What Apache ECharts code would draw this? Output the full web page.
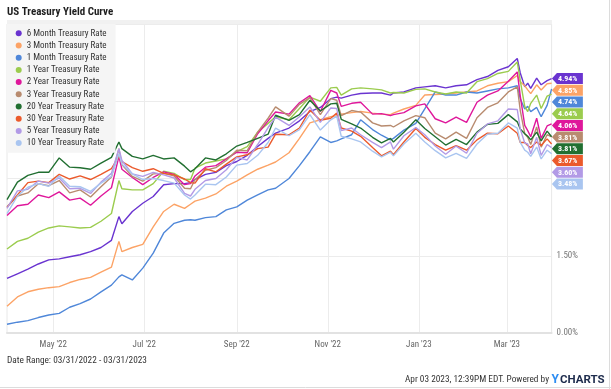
<!DOCTYPE html>
<html><head><meta charset="utf-8">
<script src="https://cdn.jsdelivr.net/npm/echarts@6/dist/echarts.min.js"></script>
<style>html,body{margin:0;padding:0;background:#fff}#c{width:611px;height:389px}</style>
</head><body><div id="c"></div>
<script>
// ---------- data ----------
const dates = ['2022-03-31','2022-04-07','2022-04-14','2022-04-21','2022-04-28','2022-05-05','2022-05-12','2022-05-19','2022-05-26','2022-06-02','2022-06-09','2022-06-14','2022-06-16','2022-06-23','2022-06-30','2022-07-07','2022-07-14','2022-07-21','2022-07-28','2022-08-01','2022-08-04','2022-08-11','2022-08-18','2022-08-25','2022-09-01','2022-09-08','2022-09-15','2022-09-22','2022-09-27','2022-10-06','2022-10-13','2022-10-20','2022-10-27','2022-11-03','2022-11-07','2022-11-10','2022-11-17','2022-11-23','2022-12-01','2022-12-07','2022-12-13','2022-12-15','2022-12-22','2022-12-30','2023-01-05','2023-01-12','2023-01-19','2023-01-26','2023-02-02','2023-02-09','2023-02-16','2023-02-23','2023-03-02','2023-03-08','2023-03-10','2023-03-13','2023-03-15','2023-03-17','2023-03-21','2023-03-24','2023-03-28','2023-03-31'];

const rate6M = [1.06,1.15,1.24,1.34,1.42,1.44,1.48,1.52,1.58,1.66, 1.80,2.26,2.12,2.36,2.52,2.65,2.88,2.90,2.90,2.92, 2.98,3.08,3.12,3.25,3.33,3.45,3.62,3.78,3.88,3.98, 4.12,4.30,4.38,4.55,4.58,4.56,4.62,4.65,4.66,4.66, 4.62,4.66,4.68,4.76,4.78,4.80,4.76,4.80,4.82,4.92, 4.98,5.10,5.17,5.33,5.05,4.78,4.85,4.75,4.95,4.82, 4.90,4.94];
const rate3M = [0.52,0.70,0.80,0.85,0.88,0.90,0.98,1.04,1.08,1.18, 1.28,1.78,1.58,1.66,1.72,2.06,2.36,2.50,2.42,2.50, 2.56,2.62,2.70,2.85,2.95,3.07,3.18,3.26,3.32,3.50, 3.78,4.08,4.14,4.20,4.22,4.25,4.28,4.30,4.27,4.25, 4.24,4.27,4.35,4.42,4.62,4.63,4.64,4.66,4.68,4.70, 4.80,4.85,4.88,5.00,4.88,4.80,4.72,4.65,4.82,4.72, 4.84,4.85];
const rate1M = [0.17,0.21,0.24,0.30,0.35,0.38,0.50,0.57,0.66,0.80, 0.93,1.09,1.13,1.03,1.26,1.55,1.94,2.13,2.19,2.20, 2.19,2.24,2.26,2.39,2.45,2.58,2.68,2.78,2.81,3.00, 3.25,3.52,3.81,3.70,3.73,3.77,3.85,4.14,3.95,3.84, 3.75,3.78,3.94,4.07,4.35,4.68,4.62,4.62,4.68,4.66, 4.70,4.74,4.76,4.80,4.55,4.35,4.40,4.30,4.38,4.20, 4.42,4.74];
const rate1Y = [1.63,1.78,1.84,1.96,2.04,2.08,2.06,2.04,2.05,2.17, 2.32,2.96,2.80,2.78,2.78,2.90,3.14,3.10,2.98,2.98, 3.20,3.30,3.34,3.38,3.52,3.62,3.90,4.07,4.20,4.14, 4.36,4.58,4.50,4.76,4.77,4.62,4.74,4.76,4.74,4.72, 4.66,4.67,4.66,4.73,4.74,4.68,4.64,4.68,4.66,4.88, 4.94,5.04,5.08,5.26,4.90,4.40,4.30,4.46,4.62,4.36, 4.60,4.64];
const rate2Y = [2.28,2.47,2.50,2.68,2.63,2.74,2.58,2.62,2.48,2.66, 2.82,3.43,3.18,3.02,2.88,3.02,3.13,3.08,2.88,2.90, 3.05,3.22,3.25,3.38,3.51,3.50,3.87,4.12,4.29,4.25, 4.47,4.61,4.30,4.71,4.66,4.40,4.46,4.48,4.25,4.26, 4.22,4.24,4.28,4.41,4.45,4.16,4.08,4.19,4.09,4.48, 4.62,4.70,4.89,5.07,4.60,4.03,3.93,3.81,4.17,3.78, 4.02,4.06];
const rate3Y = [2.45,2.66,2.72,2.90,2.86,2.96,2.72,2.78,2.64,2.84, 3.03,3.58,3.27,3.04,2.95,3.09,3.10,3.05,2.81,2.80, 2.98,3.16,3.21,3.35,3.55,3.54,3.90,4.17,4.39,4.21, 4.44,4.57,4.24,4.55,4.52,4.22,4.32,4.29,4.08,4.02, 4.03,4.00,4.12,4.22,4.18,3.88,3.77,3.90,3.78,4.18, 4.38,4.47,4.68,4.78,4.32,3.87,3.80,3.66,4.00,3.61, 3.85,3.81];
const rate20Y = [2.59,2.93,3.06,3.12,3.12,3.40,3.22,3.21,3.18,3.30, 3.41,3.71,3.58,3.43,3.38,3.45,3.38,3.40,3.24,3.13, 3.19,3.40,3.36,3.48,3.63,3.70,3.78,3.86,4.23,4.13, 4.24,4.52,4.31,4.45,4.46,4.15,4.06,3.98,3.80,3.69, 3.78,3.71,3.90,4.14,3.97,3.81,3.65,3.76,3.66,3.90, 4.05,4.07,4.24,4.10,3.96,3.87,3.82,3.75,3.90,3.73, 3.92,3.81];
const rate30Y = [2.44,2.68,2.92,2.95,2.92,3.08,2.99,3.05,2.98,3.08, 3.19,3.43,3.33,3.21,3.14,3.19,3.10,3.07,2.99,2.92, 2.91,3.19,3.13,3.28,3.42,3.46,3.58,3.61,3.86,3.85, 3.98,4.33,4.13,4.17,4.27,3.98,3.92,3.82,3.60,3.44, 3.53,3.46,3.71,3.97,3.80,3.66,3.55,3.64,3.55,3.75, 3.88,3.87,4.02,3.88,3.70,3.70,3.64,3.60,3.71,3.64, 3.77,3.67];
const rate5Y = [2.42,2.76,2.79,2.95,2.91,3.01,2.80,2.81,2.71,2.93, 3.10,3.58,3.35,3.09,3.04,3.12,3.07,3.01,2.71,2.66, 2.79,2.96,3.00,3.17,3.41,3.36,3.66,3.99,4.19,4.03, 4.20,4.39,4.09,4.37,4.36,3.93,3.98,3.85,3.70,3.60, 3.71,3.57,3.83,3.99,3.85,3.63,3.47,3.63,3.49,3.88, 4.06,4.12,4.35,4.34,3.96,3.69,3.67,3.48,3.80,3.45, 3.66,3.60];
const rate10Y = [2.32,2.66,2.83,2.90,2.85,3.05,2.85,2.84,2.75,2.91, 3.04,3.48,3.28,3.09,2.98,3.00,2.96,2.91,2.68,2.60, 2.68,2.89,2.88,3.03,3.26,3.29,3.45,3.70,3.98,3.83, 3.95,4.24,3.94,4.14,4.21,3.82,3.77,3.71,3.53,3.42, 3.51,3.44,3.67,3.88,3.71,3.54,3.40,3.49,3.39,3.67, 3.86,3.88,4.08,3.98,3.70,3.55,3.51,3.43,3.61,3.38, 3.55,3.48];

const seriesNames = ['6 Month Treasury Rate','3 Month Treasury Rate','1 Month Treasury Rate','1 Year Treasury Rate','2 Year Treasury Rate','3 Year Treasury Rate','20 Year Treasury Rate','30 Year Treasury Rate','5 Year Treasury Rate','10 Year Treasury Rate'];
const seriesValues = [rate6M, rate3M, rate1M, rate1Y, rate2Y, rate3Y, rate20Y, rate30Y, rate5Y, rate10Y];
const seriesColors = ['#6a34d0','#fca366','#4f87d9','#9bcc4e','#df179b','#b88b6f','#216f31','#eb5a2c','#b29ae6','#a9c5f0'];

const xTickDates = ['2022-05-01','2022-07-01','2022-09-01','2022-11-01','2023-01-01','2023-03-01'];
const xTickLabels = ["May '22","Jul '22","Sep '22","Nov '22","Jan '23","Mar '23"];
const xMinDate = '2022-03-31', xMaxDate = '2023-03-31';
const titleText = 'US Treasury Yield Curve';
const dateRangeText = 'Date Range: 03/31/2022 - 03/31/2023';
const stampText = 'Apr 03 2023, 12:39PM EDT. Powered by';

// ---------- helpers ----------
function ts(s){ const p = s.split('-').map(Number); return Date.UTC(p[0], p[1]-1, p[2]); }
function hasFont(name){
  const c = document.createElement('canvas').getContext('2d');
  const s = 'abcdefghijklmnopqrstuvwxyzABCDEFGHIJKLMNOPQRSTUVWXYZ0123456789';
  for (const base of ['monospace','serif','sans-serif']) {
    c.font = '20px ' + base; const w0 = c.measureText(s).width;
    c.font = '20px "' + name + '", ' + base; const w1 = c.measureText(s).width;
    if (Math.abs(w0 - w1) > 0.01) return true;
  }
  return false;
}
let FF = 'Roboto';
for (const f of ['Roboto Condensed','Liberation Sans Narrow','Arial Narrow','DejaVu Sans Condensed']) { if (hasFont(f)) { FF = f; break; } }
const narrow = FF !== 'Roboto';
const fs = narrow ? 9 : 8.2;

const tickTs = xTickDates.map(ts);
const series = seriesNames.map((n, k) => ({
  name: n, type: 'line', showSymbol: false, symbol: 'none',
  color: seriesColors[k],
  lineStyle: { width: 1.4, color: seriesColors[k] },
  emphasis: { disabled: true },
  data: dates.map((d, i) => [ts(d), seriesValues[k][i]])
}));

const staticGraphics = [
  { type: 'rect', id: 'topband', shape: { x: 7, y: 20, width: 545, height: 4 }, style: { fill: '#f1f1f1' }, z: 0 },
  { type: 'line', id: 'frameR', shape: { x1: 609.5, y1: 0, x2: 609.5, y2: 389 }, style: { stroke: '#dcdcdc', lineWidth: 1 } },
  { type: 'line', id: 'frameB', shape: { x1: 0, y1: 387.5, x2: 611, y2: 387.5 }, style: { stroke: '#dcdcdc', lineWidth: 1 } },
  { type: 'text', id: 'range', x: 7, y: 361, style: { text: dateRangeText, fontFamily: FF, fontSize: fs + 0.3, fill: '#333', verticalAlign: 'middle' } },
  { type: 'text', id: 'stamp', x: 549, y: 380, style: { text: stampText, fontFamily: FF, fontSize: fs + 0.3, fill: '#333', align: 'right', verticalAlign: 'middle' } },
  { type: 'text', id: 'logoY', x: 559, y: 380, style: { text: 'Y', fontFamily: 'Roboto', fontWeight: 'bold', fontSize: 12, fill: '#2d8df2', align: 'right', verticalAlign: 'middle' } },
  { type: 'text', id: 'logoC', x: 560, y: 380, style: { text: 'CHARTS', fontFamily: 'Roboto', fontWeight: 'bold', fontSize: 11.5, fill: '#1d2b4c', verticalAlign: 'middle' } }
];

const option = {
  animation: false,
  backgroundColor: '#ffffff',
  title: { text: titleText, left: 7, top: 7, padding: 0, textStyle: { fontFamily: FF, fontSize: narrow ? 11 : 10.2, fontWeight: 'bold', color: '#1e1e1e' } },
  legend: {
    orient: 'vertical', left: 7, top: 24, padding: [3.2, 9, 3.5, 8.7], itemGap: 0,
    itemWidth: 6, itemHeight: 6, icon: 'circle', backgroundColor: '#f5f5f5',
    selectedMode: false,
    textStyle: { fontFamily: FF, fontSize: fs, color: '#333', lineHeight: 12.2 },
    data: seriesNames
  },
  grid: { left: 7, right: 59.4, top: 24, bottom: 56, show: true, borderColor: '#e8e8e8', borderWidth: 1, containLabel: false },
  xAxis: {
    type: 'value', min: ts(xMinDate), max: ts(xMaxDate), scale: true,
    axisLine: { show: true, onZero: false, lineStyle: { color: '#e2e2e2', width: 2 } },
    axisTick: { show: false, customValues: tickTs },
    axisLabel: {
      customValues: tickTs, color: '#666', fontSize: fs, fontFamily: FF, margin: 7,
      formatter: function (v) { const i = tickTs.indexOf(v); return i >= 0 ? xTickLabels[i] : ''; }
    },
    splitLine: { show: true, lineStyle: { color: '#ececec', width: 1 } }
  },
  yAxis: {
    type: 'value', position: 'right', min: 0, max: 6, interval: 1.5,
    axisLine: { show: false }, axisTick: { show: false },
    axisLabel: { color: '#777', fontSize: fs, fontFamily: FF, margin: 5,
      formatter: function (v) { return v < 3 ? v.toFixed(2) + '%' : ''; } },
    splitLine: { show: true, lineStyle: { color: '#ececec', width: 1 } }
  },
  graphic: staticGraphics,
  series: series
};

const chart = echarts.init(document.getElementById('c'), null, { renderer: 'canvas' });
chart.setOption(option);

let tagsDone = false;
function drawTags() {
  if (tagsDone) return; tagsDone = true;
  const last = dates.length - 1;
  const items = seriesValues.map((arr, k) => {
    const p = chart.convertToPixel({ xAxisIndex: 0, yAxisIndex: 0 }, [ts(dates[last]), arr[last]]);
    return { k: k, v: arr[last], x: p[0], y: p[1] };
  });
  items.sort((a, b) => (b.v - a.v) || (a.k - b.k));
  const step = 11.7, h = 11;
  let prev = -1e9;
  const els = [];
  items.forEach((it, j) => {
    const y = Math.max(it.y, prev + step); prev = y;
    const x0 = it.x + 0.3;
    els.push({ type: 'polygon', id: 'tag' + j, z: 50,
      shape: { points: [[x0, y], [x0 + 5, y - h / 2], [x0 + 31, y - h / 2], [x0 + 31, y + h / 2], [x0 + 5, y + h / 2]] },
      style: { fill: seriesColors[it.k] } });
    els.push({ type: 'text', id: 'tagt' + j, z: 51, x: x0 + 6, y: y + 0.5,
      style: { text: it.v.toFixed(2) + '%', fontFamily: FF, fontWeight: 'bold', fontSize: narrow ? 8 : 7.2, fill: '#ffffff', verticalAlign: 'middle' } });
  });
  chart.setOption({ graphic: staticGraphics.concat(els) });
}
chart.on('finished', drawTags);
setTimeout(drawTags, 300);
</script>
</body></html>
